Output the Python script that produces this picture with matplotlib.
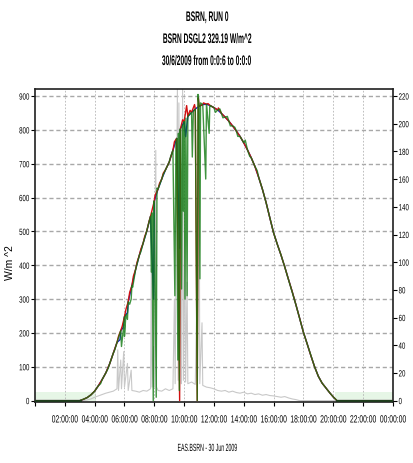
import numpy as np
import matplotlib
matplotlib.use('agg')
import matplotlib.pyplot as plt
from matplotlib.patheffects import AbstractPathEffect
from matplotlib.transforms import Affine2D

# titles and labels
title_lines = ['BSRN, RUN 0', 'BSRN DSGL2 329.19 W/m^2', '30/6/2009 from 0:0:6 to 0:0:0']
x_label = 'EAS.BSRN - 30 Jun 2009'
y_label = 'W/m ^2'
x_ticks = [0, 2, 4, 6, 8, 10, 12, 14, 16, 18, 20, 22, 24]
x_ticklabels = ['', '02:00:00', '04:00:00', '06:00:00', '08:00:00', '10:00:00', '12:00:00',
                '14:00:00', '16:00:00', '18:00:00', '20:00:00', '22:00:00', '00:00:00']
left_ticks = [0, 100, 200, 300, 400, 500, 600, 700, 800, 900]
right_ticks = [0, 20, 40, 60, 80, 100, 120, 140, 160, 180, 200, 220]

# global irradiance, clear part (hours, W/m^2), 15 min steps
base_t = [0, 2.75, 3.0, 3.25, 3.5, 3.75, 4.0, 4.25, 4.5, 4.75, 5.0, 5.25, 5.5, 5.75, 6.0, 6.25,
          6.5, 6.75, 7.0, 7.25, 7.5, 7.75, 8.0, 8.25, 8.5, 8.75, 9.0, 9.25, 9.5, 9.75, 10.0,
          10.25, 10.5, 10.75, 11.0, 11.25, 11.5, 11.75, 12.0, 12.25, 12.5, 12.75, 13.0, 13.25,
          13.5, 13.75, 14.0, 14.25, 14.5, 14.75, 15.0, 15.25, 15.5, 15.75, 16.0, 16.25, 16.5,
          16.75, 17.0, 17.25, 17.5, 17.75, 18.0, 18.25, 18.5, 18.75, 19.0, 19.25, 19.5, 19.75,
          20.0, 20.25, 20.5, 24]
base_v = [0, 0, 0, 4, 9, 17, 28, 44, 62, 82, 108, 140, 172, 207, 248, 292,
          340, 388, 430, 465, 502, 545, 590, 625, 655, 682, 705, 740, 775, 803, 825,
          840, 852, 862, 870, 875, 876, 872, 866, 859, 849, 838, 826, 812,
          797, 781, 762, 741, 718, 692, 660, 625, 585, 540, 496, 462, 430,
          395, 358, 322, 283, 243, 202, 168, 133, 100, 72, 52, 38, 24,
          11, 0, 0, 0]

# green sensor: dips and wiggles
green_t = [4.4, 4.9, 5.35, 5.8, 5.9, 6.0, 6.1, 6.2, 6.35, 6.45, 6.55, 7.1, 7.6,
           7.8, 7.85, 7.93, 7.98, 8.13, 8.18, 8.6, 9.1,
           9.38, 9.45, 9.58, 9.62, 9.68, 9.72, 9.83, 9.88, 9.95, 10.0, 10.06, 10.12, 10.2,
           10.55, 10.62, 10.88, 10.93, 11.06, 11.1, 11.45, 11.5, 11.68, 11.72,
           12.1, 12.4, 12.6, 12.9, 13.1, 13.4, 13.6, 14.1, 14.4, 14.9]
green_v = [50, 95, 150, 160, 200, 190, 255, 240, 285, 300, 335, 440, 520,
           380, 555, 0, 590, 10, 628, 668, 722,
           310, 760, 120, 790, 30, 800, 330, 815, 560, 820, 300, 835, 310,
           720, 855, 0, 905, 360, 880, 655, 875, 790, 870,
           852, 862, 836, 840, 812, 808, 781, 770, 722, 680]

# red sensor: slightly above in the morning
red_t = [5.6, 5.85, 6.1, 6.35, 6.6, 6.85, 7.1, 7.35, 7.65, 8.05, 8.35, 8.6, 9.35, 9.7,
         9.9, 10.17, 10.4, 10.7, 10.88, 10.95, 11.3, 11.6, 12.3]
red_v = [190, 220, 270, 320, 368, 410, 448, 484, 530, 606, 642, 672, 765, 0,
         830, 872, 858, 875, 0, 895, 880, 878, 865]

# blue sensor
blue_t = [5.7, 5.9, 6.2, 7.95, 9.7, 10.1]
blue_v = [180, 215, 260, 300, 450, 780]

# grey trace
grey_t = [0, 3.25, 3.5, 3.75, 4.0, 4.25, 4.5, 4.75, 5.0, 5.25, 5.5, 5.55, 5.6, 5.75, 5.8,
          5.95, 6.0, 6.2, 6.25, 6.45, 6.5, 6.75, 7.0, 7.25, 7.5, 7.75, 7.8, 7.85, 7.95,
          8.0, 8.1, 8.15, 8.25, 8.5, 8.75, 9.0, 9.25, 9.35, 9.4, 9.55, 9.6, 9.65, 9.7,
          9.78, 9.82, 9.9, 9.95, 10.05, 10.1, 10.2, 10.25, 10.5, 10.75, 10.85, 10.9,
          11.0, 11.05, 11.2, 11.25, 11.5, 11.75, 12.0, 12.25, 12.5, 12.75, 13.0, 13.25,
          13.5, 13.75, 14.0, 14.25, 14.5, 14.75, 15.0, 15.25, 15.5, 15.75, 16.0, 16.25,
          16.5, 16.75, 17.0, 17.25, 17.5, 17.75, 24]
grey_v = [0, 0, 2, 5, 10, 14, 18, 22, 25, 28, 35, 150, 30, 120, 35,
          145, 40, 110, 30, 90, 30, 28, 25, 30, 28, 35, 390, 40, 160,
          40, 740, 40, 30, 28, 35, 30, 35, 300, 50, 920, 60, 880, 50,
          600, 50, 920, 60, 500, 55, 350, 50, 55, 48, 300, 60,
          900, 50, 230, 45, 40, 38, 35, 30, 28, 30, 25, 28,
          24, 22, 25, 20, 22, 18, 20, 16, 18, 15, 14, 12,
          10, 12, 8, 5, 3, 0, 0]

# night shading near zero
night_bands = [(0, 4.1), (20.1, 24)]
band_top = 25


class Squash(AbstractPathEffect):
    # squeeze text along its baseline, like the narrow font in the original
    def __init__(self, sx=0.6, anchor='center'):
        super().__init__()
        self.sx = sx
        self.anchor = anchor

    def draw_path(self, renderer, gc, tpath, affine, rgbFace=None):
        ext = tpath.get_extents()
        if self.anchor == 'left':
            cx = ext.x0
        elif self.anchor == 'right':
            cx = ext.x1
        else:
            cx = (ext.x0 + ext.x1) / 2
        t = Affine2D().translate(-cx, 0).scale(self.sx, 1).translate(cx, 0) + affine
        renderer.draw_path(gc, tpath, t, rgbFace)


def merge(t1, v1, t2, v2):
    t = np.concatenate([np.asarray(t1, float), np.asarray(t2, float)])
    v = np.concatenate([np.asarray(v1, float), np.asarray(v2, float)])
    order = np.argsort(t, kind='stable')
    return t[order], v[order]


plt.rcParams['font.family'] = ['Liberation Sans', 'DejaVu Sans']

fig = plt.figure(figsize=(4.14, 4.64), dpi=100)
ax = fig.add_axes([0.0845, 0.1315, 0.8645, 0.6745])

for a, b in night_bands:
    ax.fill_between([a, b], 0, band_top, color='#e6f6e6', lw=0, zorder=0)

ax.plot(grey_t, grey_v, color='#c8c8c8', lw=0.8, zorder=2)
t, v = merge(base_t, base_v, blue_t, blue_v)
ax.plot(t, v, color='#1020c0', lw=1.0, zorder=3)
t, v = merge(base_t, base_v, red_t, red_v)
ax.plot(t, v, color='#d01010', lw=1.0, zorder=4)
t, v = merge(base_t, base_v, green_t, green_v)
ax.plot(t, v, color='#107a10', lw=1.0, alpha=0.8, zorder=5)
ax.plot([0, 3.0], [0, 0], color='#1e3a1e', lw=2.0, zorder=6)
ax.plot([20.25, 24], [0, 0], color='#1e3a1e', lw=2.0, zorder=6)

ax.set_xlim(0, 24)
ax.set_ylim(-4, 921)
ax.set_xticks(x_ticks)
ax.set_xticklabels(x_ticklabels, fontsize=7.5)
ax.set_yticks(left_ticks)
ax.set_yticklabels([str(x) for x in left_ticks], fontsize=6.5)
ax.tick_params(axis='x', length=3, pad=6, color='black')
ax.tick_params(axis='y', length=3, pad=1, color='black')
for lab in ax.get_xticklabels():
    lab.set_path_effects([Squash(0.65, 'center')])
for lab in ax.get_yticklabels():
    lab.set_path_effects([Squash(0.68, 'right')])

# horizontal + vertical grid
for yv in left_ticks[1:]:
    ax.axhline(yv, color='#a8a8a8', lw=1.0, ls=(0, (3, 2)), zorder=1)
for xv in x_ticks[1:-1]:
    ax.axvline(xv, color='#b4b4b4', lw=0.6, ls=(0, (2, 2)), zorder=1)

for s in ax.spines.values():
    s.set_color('#202020')
    s.set_linewidth(1.2)

ax2 = ax.twinx()
ax2.set_ylim(-4 * 0.2444, 921 * 0.2444)
ax2.set_yticks(right_ticks)
ax2.set_yticklabels([str(x) for x in right_ticks], fontsize=6.5)
ax2.tick_params(axis='y', length=3, pad=1)
for lab in ax2.get_yticklabels():
    lab.set_path_effects([Squash(0.68, 'left')])
for s in ax2.spines.values():
    s.set_visible(False)

ax.set_ylabel(y_label, fontsize=7.5)
ax.yaxis.set_label_coords(-0.055, 0.45)
xl = fig.text(0.5, 1 - 449 / 464, x_label, ha='center', va='center', fontsize=7.5)
xl.set_path_effects([Squash(0.5, 'center')])

for i, line in enumerate(title_lines):
    tt = fig.text(0.5, 1 - (18 + 22 * i) / 464, line, ha='center', va='center',
                  fontsize=10, fontweight='bold')
    tt.set_path_effects([Squash(0.48, 'center')])

fig.savefig('out.png', dpi=100)
